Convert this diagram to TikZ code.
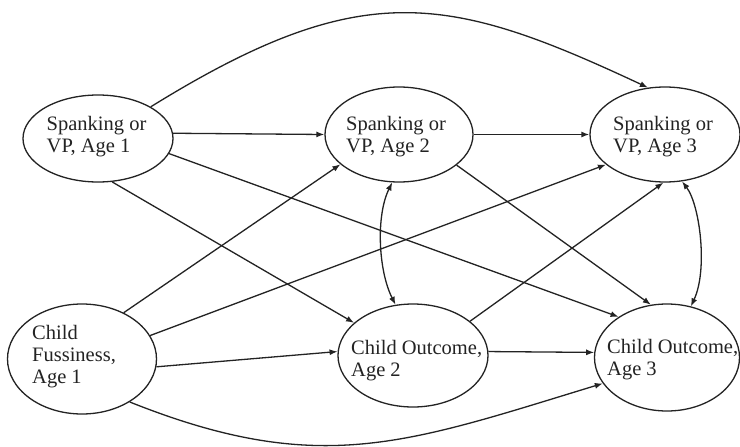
\documentclass[tikz,border=0pt]{standalone}
\usepackage{fontspec}
\setmainfont{Liberation Serif}
\usetikzlibrary{shapes.geometric,arrows.meta}
\definecolor{ink}{RGB}{35,35,35}
\begin{document}
\begin{tikzpicture}[x=1pt,y=-1pt,
  ell/.style={draw=ink, line width=1.3pt, ellipse, inner sep=0pt},
  lbl/.style={anchor=base west, align=left, inner sep=0pt, text=ink, font=\fontsize{20.5}{22}\selectfont},
  arr/.style={draw=ink, line width=1.3pt, -{Latex[length=8pt,width=6pt]}},
  darr/.style={draw=ink, line width=1.3pt, {Latex[length=8pt,width=6pt]}-{Latex[length=8pt,width=6pt]}}]
\useasboundingbox (0,0) rectangle (740,447);
\fill[white] (0,0) rectangle (740,447);

\node[ell, minimum width=150pt, minimum height=87pt] (s1) at (98,138.5) {};
\node[ell, minimum width=148pt, minimum height=95pt] (s2) at (399,134.5) {};
\node[ell, minimum width=150pt, minimum height=95pt] (s3) at (665,134.5) {};
\node[ell, minimum width=149pt, minimum height=110pt] (cf) at (82,359) {};
\node[ell, minimum width=150pt, minimum height=103pt] (c2) at (413,355.5) {};
\node[ell, minimum width=145pt, minimum height=107pt] (c3) at (667,357.5) {};

% base anchor = baseline of the last line
\node[lbl] (t1) at (46.5,152.5) {Spanking or\\VP, Age 1};
\node[lbl] (t2) at (346,152.5) {Spanking or\\VP, Age 2};
\node[lbl] (t3) at (613,152.5) {Spanking or\\VP, Age 3};
\node[lbl] (t4) at (32,383) {Child\\Fussiness,\\Age 1};
\node[lbl] (t5) at (351,376) {Child Outcome,\\Age 2};
\node[lbl] (t6) at (607,375) {Child Outcome,\\Age 3};

\draw[arr] (s1.4) -- (s2.west);
\draw[arr] (s2.east) -- (s3.west);
\draw[arr] (s1.31) .. controls (362,-24) and (448,-6) .. (s3.110);
\draw[arr] (s1.-12) -- (c3.140.7);
\draw[arr] (s1.-72) -- (c2.151);
\draw[arr] (cf.48) -- (s2.-153);
\draw[arr] (cf.19) -- (s3.-153);
\draw[arr] (cf.-6) -- (c2.177);
\draw[arr] (cf.-42) .. controls (320,478) and (407,443) .. (c3.-158);
\draw[darr] (s2.-98) .. controls (376,215) and (378,270) .. (c2.109);
\draw[darr] (s3.-70) .. controls (700,205) and (708,270) .. (c3.65);
\draw[arr] (s2.-28) -- (c3.107);
\draw[arr] (c2.31) -- (s3.-92);
\draw[arr] (c2.3) -- (c3.176);
\end{tikzpicture}
\end{document}
